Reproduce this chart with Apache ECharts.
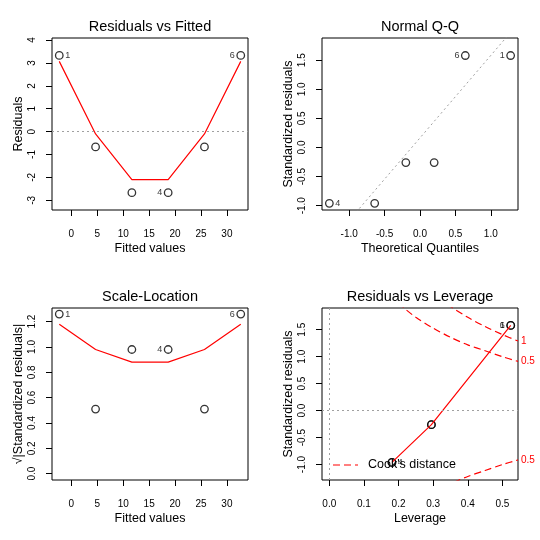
<!DOCTYPE html>
<html><head><meta charset="utf-8">
<script src="https://cdn.jsdelivr.net/npm/echarts@6/dist/echarts.min.js"></script>
<style>html,body{margin:0;padding:0;background:#fff}#c{width:540px;height:540px}</style>
</head><body><div id="c"></div>
<script>
// ---- data ----
const obsIds = [1, 2, 3, 4, 5, 6];
const fittedValues = [-2.33, 4.67, 11.67, 18.67, 25.67, 32.67];
const residuals = [3.33, -0.67, -2.67, -2.67, -0.67, 3.33];
const residualsSmooth = [3.07, -0.1, -2.1, -2.1, -0.1, 3.07];

const theoreticalQuantiles = [-1.28, -0.64, -0.2, 0.2, 0.64, 1.28];
const sortedStdResiduals = [-0.96, -0.96, -0.26, -0.26, 1.58, 1.58];
const qqOrderIds = [4, 3, 5, 2, 6, 1];
const qqLineX = [-1.5, 1.5];
const qqLineY = [-1.96, 2.29];

const sqrtAbsStdResiduals = [1.26, 0.51, 0.98, 0.98, 0.51, 1.26];
const scaleSmooth = [1.18, 0.98, 0.88, 0.88, 0.98, 1.18];

const leverage = [0.524, 0.295, 0.181, 0.181, 0.295, 0.524];
const stdResiduals = [1.58, -0.26, -0.96, -0.96, -0.26, 1.58];
const leverageSmoothX = [0.181, 0.295, 0.524];
const leverageSmoothY = [-0.96, -0.26, 1.58];

const cookHalfUpperX = [0.2, 0.21, 0.22, 0.25, 0.30, 0.35, 0.40, 0.45, 0.50, 0.545];
const cookHalfUpperY = [2.0, 1.94, 1.88, 1.73, 1.53, 1.36, 1.22, 1.11, 1.0, 0.914];
const cookOneUpperX = [0.34, 0.35, 0.40, 0.45, 0.50, 0.545];
const cookOneUpperY = [1.97, 1.93, 1.73, 1.56, 1.41, 1.29];
const cookHalfLowerX = [0.36, 0.37, 0.40, 0.45, 0.50, 0.545];
const cookHalfLowerY = [-1.33, -1.30, -1.22, -1.11, -1.0, -0.914];

const labelledIds = [1, 6, 4];

const titles = ['Residuals vs Fitted', 'Normal Q-Q', 'Scale-Location', 'Residuals vs Leverage'];
const xNames = ['Fitted values', 'Theoretical Quantiles', 'Fitted values', 'Leverage'];
const yNames = ['Residuals', 'Standardized residuals', '\u221A|Standardized residuals|', 'Standardized residuals'];
const xTicks = [[0, 5, 10, 15, 20, 25, 30], [-1, -0.5, 0, 0.5, 1], [0, 5, 10, 15, 20, 25, 30], [0, 0.1, 0.2, 0.3, 0.4, 0.5]];
const yTicks = [[-3, -2, -1, 0, 1, 2, 3, 4], [-1, -0.5, 0, 0.5, 1, 1.5], [0, 0.2, 0.4, 0.6, 0.8, 1.0, 1.2], [-1, -0.5, 0, 0.5, 1, 1.5]];
const xRanges = [[-3.733, 34.067], [-1.384, 1.384], [-3.733, 34.067], [-0.021, 0.545]];
const yRanges = [[-3.425, 4.091], [-1.074, 1.881], [-0.0503, 1.3077], [-1.286, 1.903]];
const decimals = [[0, 0], [1, 1], [0, 1], [1, 1]];
const legendText = "Cook's distance";

// ---- chart ----
const FONT = '"Liberation Sans", Arial, Helvetica, sans-serif';
const gridPos = [[52, 38], [322, 38], [52, 308], [322, 308]];
const GW = 196, GH = 172;

const zip = (xs, ys) => xs.map((x, i) => [x, ys[i]]);

function pointData(xs, ys, ids) {
  const shown = xs.filter((x, i) => labelledIds.includes(ids[i]));
  const mid = (Math.min(...shown) + Math.max(...shown)) / 2;
  return xs.map((x, i) => {
    const lab = labelledIds.includes(ids[i]);
    return {
      value: [x, ys[i]],
      label: { show: lab, formatter: String(ids[i]), position: x > mid ? 'left' : 'right',
               distance: 1.5, fontSize: 9, color: '#000', fontFamily: FONT }
    };
  });
}

const grids = gridPos.map(p => ({ left: p[0], top: p[1], width: GW, height: GH, show: true,
  borderColor: '#000', borderWidth: 1, backgroundColor: 'transparent', containLabel: false }));

const xAxes = [0, 1, 2, 3].map(i => ({
  type: 'value', gridIndex: i, min: xRanges[i][0], max: xRanges[i][1],
  name: xNames[i], nameLocation: 'middle', nameGap: 32,
  nameTextStyle: { fontSize: 12.5, color: '#000', fontFamily: FONT },
  axisLine: { show: false, onZero: false }, splitLine: { show: false },
  axisTick: { show: true, customValues: xTicks[i], length: 6, lineStyle: { color: '#000', width: 1 } },
  axisLabel: { customValues: xTicks[i], formatter: v => Number(v).toFixed(decimals[i][0]),
               fontSize: 10, color: '#000', margin: 19, fontFamily: FONT }
}));

const yAxes = [0, 1, 2, 3].map(i => ({
  type: 'value', gridIndex: i, min: yRanges[i][0], max: yRanges[i][1],
  name: yNames[i], nameLocation: 'middle', nameGap: 27,
  nameTextStyle: { fontSize: 12.5, color: '#000', fontFamily: FONT },
  axisLine: { show: false, onZero: false }, splitLine: { show: false },
  axisTick: { show: true, customValues: yTicks[i], length: 6, lineStyle: { color: '#000', width: 1 } },
  axisLabel: { customValues: yTicks[i], formatter: v => Number(v).toFixed(decimals[i][1]),
               rotate: 90, fontSize: 10, color: '#000', margin: 15, fontFamily: FONT }
}));

const pointStyle = { color: 'rgba(0,0,0,0)', borderColor: '#000', borderWidth: 1.3 };
const dotted = { type: [2, 3], color: '#a0a0a0', width: 1 };
const red = { color: '#ff0000', width: 1.2 };

function scatter(i, data, markLineData) {
  const s = { type: 'scatter', xAxisIndex: i, yAxisIndex: i, symbol: 'circle', symbolSize: 7.5,
    itemStyle: pointStyle, data: data, z: 3, silent: true };
  if (markLineData) {
    s.markLine = { silent: true, symbol: ['none', 'none'], label: { show: false },
      lineStyle: dotted, data: markLineData, animation: false };
  }
  return s;
}
function line(i, data, style, extra) {
  return Object.assign({ type: 'line', xAxisIndex: i, yAxisIndex: i, data: data, showSymbol: false,
    symbol: 'none', lineStyle: style, clip: true, z: 4, silent: true }, extra || {});
}

const cookStyle = { color: '#ff0000', width: 1.2, type: [7, 4] };
const cookLabel = txt => ({ show: true, formatter: txt, color: '#ff0000', fontSize: 10, distance: 3, fontFamily: FONT });

const series = [
  scatter(0, pointData(fittedValues, residuals, obsIds), [{ yAxis: 0 }]),
  line(0, zip(fittedValues, residualsSmooth), red),

  scatter(1, pointData(theoreticalQuantiles, sortedStdResiduals, qqOrderIds)),
  line(1, zip(qqLineX, qqLineY), dotted, { z: 2 }),

  scatter(2, pointData(fittedValues, sqrtAbsStdResiduals, obsIds)),
  line(2, zip(fittedValues, scaleSmooth), red),

  scatter(3, pointData(leverage, stdResiduals, obsIds), [{ yAxis: 0 }, { xAxis: 0 }]),
  line(3, zip(leverageSmoothX, leverageSmoothY), red),
  line(3, zip(cookHalfUpperX, cookHalfUpperY), cookStyle, { smooth: 0.3, endLabel: cookLabel('0.5') }),
  line(3, zip(cookOneUpperX, cookOneUpperY), cookStyle, { smooth: 0.3, endLabel: cookLabel('1') }),
  line(3, zip(cookHalfLowerX, cookHalfLowerY), cookStyle, { smooth: 0.3, endLabel: cookLabel('0.5') })
];

const chart = echarts.init(document.getElementById('c'), null, { renderer: 'canvas' });
chart.setOption({
  animation: false,
  backgroundColor: '#fff',
  textStyle: { fontFamily: FONT },
  title: titles.map((t, i) => ({
    text: t, left: gridPos[i][0] + GW / 2, top: gridPos[i][1] - 19, textAlign: 'center', padding: 0,
    textStyle: { fontSize: 14.5, fontWeight: 'normal', color: '#000', fontFamily: FONT }
  })),
  graphic: [
    { type: 'line', shape: { x1: 333, y1: 465, x2: 358, y2: 465 }, z: 10,
      style: { stroke: '#ff0000', lineWidth: 1.2, lineDash: [7, 4] } },
    { type: 'text', left: 368, top: 458, z: 10,
      style: { text: legendText, fontSize: 12.5, fill: '#000', fontFamily: FONT } }
  ],
  grid: grids,
  xAxis: xAxes,
  yAxis: yAxes,
  series: series
});
</script>
</body></html>
